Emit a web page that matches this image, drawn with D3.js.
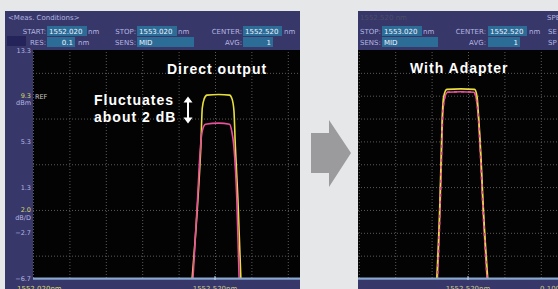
<!DOCTYPE html>
<html>
<head>
<meta charset="utf-8">
<script src="https://cdn.jsdelivr.net/npm/d3@7"></script>
<style>
  body { margin: 0; background: #e6e7e9; }
  svg { display: block; }
</style>
</head>
<body>
<svg id="chart"></svg>
<script>
// Traces: [wavelength nm, level dBm]
const directYellow = [
  [1552.455, -7.5], [1552.473, 0.2], [1552.481, 4.8], [1552.485, 8.2], [1552.490, 9.0],
  [1552.498, 9.35], [1552.530, 9.4], [1552.560, 9.35], [1552.567, 9.0], [1552.572, 8.0],
  [1552.576, 4.8], [1552.583, 0.2], [1552.592, -7.5]
];
const directPink = [
  [1552.458, -7.5], [1552.472, 0.2], [1552.480, 4.8], [1552.485, 6.2], [1552.494, 6.8],
  [1552.530, 6.9], [1552.560, 6.8], [1552.566, 6.2], [1552.572, 4.8], [1552.580, 0.2],
  [1552.587, -7.5]
];
const adapterYellow = [
  [1552.433, -7.5], [1552.443, 0.2], [1552.446, 3.7], [1552.449, 7.2], [1552.453, 9.2],
  [1552.462, 9.85], [1552.500, 9.9], [1552.538, 9.85], [1552.545, 9.2], [1552.548, 8.0],
  [1552.556, 3.7], [1552.561, 0.2], [1552.576, -7.5]
];
const adapterPink = [
  [1552.435, -7.5], [1552.444, 0.2], [1552.447, 3.7], [1552.450, 7.2], [1552.455, 9.0],
  [1552.464, 9.6], [1552.500, 9.65], [1552.536, 9.6], [1552.543, 9.0], [1552.547, 8.0],
  [1552.555, 3.7], [1552.560, 0.2], [1552.574, -7.5]
];

// Screen scales
const levelTicks = [13.3, 9.3, 5.3, 1.3, -2.7, -6.7];
const levelGridOdd = [11.3, 7.3, 3.3, -0.7, -4.7];
const levelGridAll = [11.3, 9.3, 7.3, 5.3, 3.3, 1.3, -0.7, -2.7, -4.7];
const wlGrid = [1552.02, 1552.12, 1552.22, 1552.32, 1552.42, 1552.52, 1552.62, 1552.72, 1552.82, 1552.92, 1553.02];

const width = 558, height = 289;
const navy = "#37376a", box = "#2c6d97", lav = "#b4b6e0", yel = "#d8d86a";
const screenFont = "DejaVu Sans, sans-serif";
const noteFont = "Liberation Sans, Arial, sans-serif";

const svg = d3.select("#chart")
  .attr("width", width)
  .attr("height", height);

svg.append("rect")
  .attr("width", width).attr("height", height)
  .attr("fill", "#e6e7e9");

// Grey arrow between the screens
svg.append("path")
  .attr("d", "M311,133 L329,133 L329,120 L351,153 L329,187 L329,173 L311,173 Z")
  .attr("fill", "#9b9b9d");

// header helpers
function label(g, x, y, txt, anchor, color, size) {
  g.append("text")
    .attr("x", x).attr("y", y)
    .attr("text-anchor", anchor || "start")
    .attr("font-family", screenFont)
    .attr("font-size", size || "7px")
    .attr("fill", color || lav)
    .text(txt);
}
function field(g, x, y, w, txt, anchor) {
  g.append("rect")
    .attr("x", x).attr("y", y - 8).attr("width", w).attr("height", 10)
    .attr("fill", box);
  label(g, anchor === "end" ? x + w - 2 : x + 2, y, txt, anchor, "#eef2ff");
}

function drawScreen(g, opt) {
  const x = d3.scaleLinear().domain([1552.02, 1553.02]).range([opt.x0, opt.x0 + 364]);
  const y = d3.scaleLinear().domain([-6.7, 13.3]).range([278.5, 50]);
  const pl = opt.left, pr = opt.right;

  g.append("rect")
    .attr("x", opt.frameX).attr("y", 11)
    .attr("width", pr - opt.frameX).attr("height", height - 11)
    .attr("fill", navy);

  // black plot area
  g.append("rect")
    .attr("x", pl).attr("y", 50)
    .attr("width", pr - pl).attr("height", 228)
    .attr("fill", "#030303");

  const clipId = "clip" + opt.id;
  g.append("clipPath").attr("id", clipId)
    .append("rect")
    .attr("x", pl).attr("y", 50)
    .attr("width", pr - pl).attr("height", 228);

  const plot = g.append("g").attr("clip-path", `url(#${clipId})`);

  // vertical grid
  plot.append("g")
    .attr("transform", "translate(0,278)")
    .call(d3.axisBottom(x).tickValues(wlGrid).tickSize(-228).tickFormat(""))
    .call(a => a.select(".domain").remove())
    .selectAll("line")
    .attr("stroke", "#5a5a5a")
    .attr("stroke-dasharray", "1,2");

  // horizontal grid
  plot.append("g")
    .attr("transform", `translate(${pl},0)`)
    .call(d3.axisLeft(y).tickValues(opt.hGrid).tickSize(-(pr - pl)).tickFormat(""))
    .call(a => a.select(".domain").remove())
    .selectAll("line")
    .attr("stroke", "#5a5a5a")
    .attr("stroke-dasharray", "1,2");

  const line = d3.line()
    .x(d => x(d[0]))
    .y(d => y(d[1]))
    .curve(d3.curveMonotoneX);

  opt.traces.forEach(t => {
    plot.append("path")
      .datum(t.data)
      .attr("fill", "none")
      .attr("stroke", t.color)
      .attr("stroke-width", 1.6)
      .attr("stroke-dasharray", t.dash || null)
      .attr("d", line);
  });

  // bottom axis bar
  g.append("rect")
    .attr("x", pl).attr("y", 277.5)
    .attr("width", pr - pl).attr("height", 2.2)
    .attr("fill", "#88a8cf");
  g.append("line")
    .attr("x1", x(1552.52)).attr("x2", x(1552.52))
    .attr("y1", 276).attr("y2", 280)
    .attr("stroke", "#c8d8ee").attr("stroke-width", 1);

  return {x, y};
}

// ---------- Left screen: Direct output ----------
const left = svg.append("g");
const L = drawScreen(left, {
  id: "L", frameX: 5, left: 33, right: 300, x0: 33,
  hGrid: levelGridOdd,
  traces: [
    {data: directYellow, color: "#e6df3c"},
    {data: directPink, color: "#e8509a"}
  ]
});

label(left, 8, 20, "<Meas. Conditions>");
label(left, 46, 34, "START:", "end");
field(left, 47, 34, 40, "1552.020");
label(left, 88, 34, "nm");
label(left, 136, 34, "STOP:", "end");
field(left, 137, 34, 40, "1553.020");
label(left, 178, 34, "nm");
label(left, 242, 34, "CENTER:", "end");
field(left, 243, 34, 39, "1552.520");
label(left, 284, 34, "nm");

left.append("rect")
  .attr("x", 7).attr("y", 36).attr("width", 19).attr("height", 10)
  .attr("fill", "#24245a");
label(left, 46, 45, "RES:", "end");
field(left, 47, 45, 28, "0.1", "end");
label(left, 78, 45, "nm");
label(left, 136, 45, "SENS:", "end");
field(left, 137, 45, 57, "MID");
label(left, 242, 45, "AVG:", "end");
field(left, 243, 45, 30, "1", "end");

// level axis
left.append("g")
  .attr("transform", "translate(31,0)")
  .call(d3.axisLeft(L.y).tickValues(levelTicks).tickSize(0).tickPadding(0).tickFormat(d3.format(".1f")))
  .call(a => a.select(".domain").remove())
  .selectAll("text")
  .attr("font-family", screenFont)
  .attr("font-size", "6.5px")
  .attr("fill", d => d === 9.3 ? yel : lav);
left.select("text").attr("dy", "0.9em");
label(left, 35, 99, "REF", "start", "#c8c8c8", "6.5px");
label(left, 31, 105, "dBm", "end", lav, "6.5px");
label(left, 31, 212, "2.0", "end", yel, "6.5px");
label(left, 31, 220, "dB/D", "end", lav, "6.5px");
label(left, 17, 291, "1552.020nm", "start", yel);
label(left, L.x(1552.52), 291, "1552.520nm", "middle", "#c9c98a");

// ---------- Right screen: With Adapter ----------
const right = svg.append("g");
const R = drawScreen(right, {
  id: "R", frameX: 358, left: 358, right: 558, x0: 286,
  hGrid: levelGridAll,
  traces: [
    {data: adapterPink, color: "#e8509a"},
    {data: adapterYellow, color: "#e6df3c"},
    {data: adapterPink, color: "#e8509a", dash: "3,4"}
  ]
});

label(right, 360, 20, "1552.520 nm", "start", "#4d4d66");
label(right, 360, 34, "STOP:");
field(right, 382, 34, 40, "1553.020");
label(right, 423, 34, "nm");
label(right, 486, 34, "CENTER:", "end");
field(right, 488, 34, 39, "1552.520");
label(right, 529, 34, "nm");
label(right, 547, 20, "SPE");
label(right, 548, 34, "SE");
label(right, 548, 45, "SP");
label(right, 360, 45, "SENS:");
field(right, 382, 45, 56, "MID");
label(right, 486, 45, "AVG:", "end");
field(right, 488, 45, 32, "1", "end");
label(right, R.x(1552.52), 291, "1552.520nm", "middle", "#c9c98a");
label(right, 540, 291, "0.100", "start", "#c9c98a");

// ---------- Annotations ----------
function note(x, y, txt, anchor) {
  svg.append("text")
    .attr("x", x).attr("y", y)
    .attr("text-anchor", anchor || "start")
    .attr("font-family", noteFont)
    .attr("font-weight", "bold")
    .attr("font-size", "14px")
    .attr("letter-spacing", "1px")
    .attr("fill", "#ffffff")
    .text(txt);
}
note(167, 74, "Direct output");
note(94, 105, "Fluctuates");
note(94, 122, "about 2 dB");
note(410, 73, "With Adapter");

// double arrow
svg.append("line")
  .attr("x1", 188).attr("x2", 188).attr("y1", 100).attr("y2", 120)
  .attr("stroke", "#fff").attr("stroke-width", 2);
svg.append("path")
  .attr("d", "M183.5,102.5 L188,96.5 L192.5,102.5 Z M183.5,117.5 L188,123.5 L192.5,117.5 Z")
  .attr("fill", "#fff");
</script>
</body>
</html>
